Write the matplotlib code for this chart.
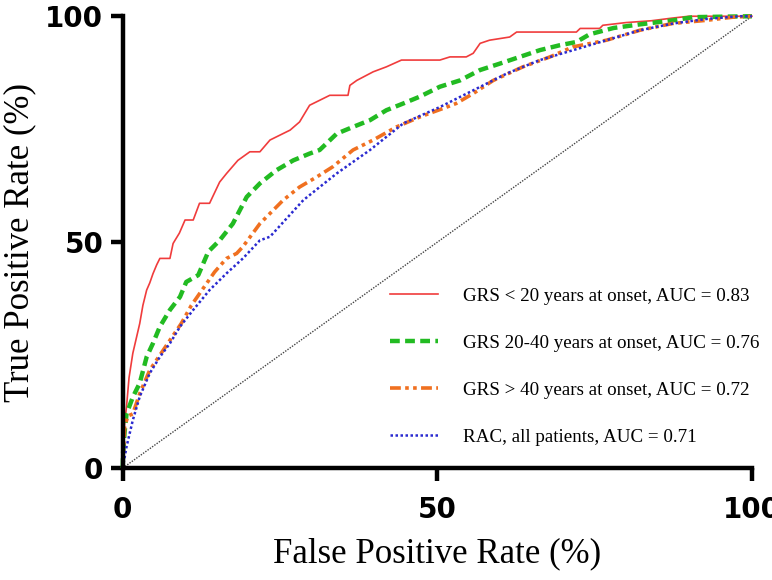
import matplotlib
matplotlib.use("Agg")
import matplotlib.pyplot as plt

# ---- data ----
red_x = [0, 0.1, 0.3, 0.6, 1.0, 1.6, 2.2, 2.7, 3.2, 3.8, 4.3, 4.8, 5.4, 5.9, 7.5, 8.0, 8.3, 9.0, 9.9, 11.2, 12.2, 13.8,
         15.4, 16.5, 18.3, 20.2, 21.8, 23.4, 25.0, 26.6, 28.1, 29.7, 31.3, 32.9, 35.8, 36.1, 37.2, 39.8, 41.9,
         44.3, 50.4, 52.0, 54.6, 55.7, 56.8, 58.3, 61.5, 62.6, 72.1, 72.7, 75.8, 76.3, 80.0, 84.0, 87.4, 90.0, 100]
red_y = [0, 6.0, 10.0, 13.6, 20.0, 25.4, 29.0, 32.0, 36.0, 39.4, 41.0, 43.0, 45.0, 46.4, 46.4, 49.7, 50.4, 52.0, 54.9, 54.9, 58.6, 58.6,
         63.3, 65.2, 68.1, 70.0, 70.0, 72.6, 73.7, 74.8, 76.6, 80.3, 81.4, 82.5, 82.5, 84.7, 85.8, 87.7, 88.8,
         90.3, 90.3, 91.0, 91.0, 91.8, 94.0, 94.7, 95.4, 96.5, 96.5, 97.3, 97.3, 98.0, 98.6, 99.0, 99.6, 100, 100]

green_x = [0, 0.05, 0.3, 0.6, 1.6, 2.7, 3.8, 4.8, 5.9, 7.5, 9.1, 10.1, 12.0, 13.6, 15.4, 17.5, 19.7, 21.8, 24.4,
           27.1, 29.7, 31.3, 34.0, 36.6, 39.3, 41.9, 44.6, 47.2, 50.4, 53.6, 56.8, 59.9, 63.1, 66.3, 69.5, 72.1,
           74.2, 78.0, 82.2, 87.5, 90.7, 100]
green_y = [0, 3.3, 8.0, 12.0, 15.7, 18.8, 24.6, 27.6, 31.3, 35.0, 37.9, 41.2, 42.7, 47.9, 50.4, 54.1, 60.0, 63.0, 65.9,
           68.1, 69.6, 70.4, 74.0, 75.5, 77.0, 79.2, 80.7, 82.2, 84.4, 85.8, 88.1, 89.5, 91.0, 92.5, 93.6, 94.3,
           96.0, 97.4, 98.2, 99.1, 99.8, 100]

orange_x = [0, 0.05, 0.3, 0.8, 1.6, 2.7, 4.3, 5.9, 7.5, 9.3, 10.9, 12.8, 14.6, 16.5, 18.1, 19.1, 21.8, 25.5,
            28.1, 30.8, 33.4, 36.6, 39.8, 43.5, 47.2, 51.5, 53.0, 55.7, 58.9, 63.6, 67.9, 71.5, 76.9, 82.2,
            87.4, 92.8, 97.0, 100]
orange_y = [0, 1.8, 9.1, 11.5, 12.0, 16.5, 21.7, 25.0, 28.3, 32.0, 36.0, 39.8, 43.4, 46.4, 47.5, 49.0, 54.1, 59.3,
            62.2, 64.4, 66.7, 70.4, 72.6, 75.5, 77.7, 79.9, 80.7, 82.9, 85.8, 88.8, 91.0, 93.2, 94.7, 96.9,
            98.4, 99.1, 99.8, 100]

blue_x = [0, 0.6, 1.6, 2.7, 4.3, 5.9, 7.5, 9.1, 11.2, 13.8, 16.5, 19.1, 21.8, 23.4, 28.7, 34.0, 39.3, 44.6,
          50.4, 55.7, 61.0, 66.3, 71.6, 76.9, 82.2, 87.5, 92.8, 98.0, 100]
blue_y = [0, 4.7, 10.6, 15.8, 21.0, 24.6, 27.6, 31.3, 35.0, 39.4, 43.1, 46.4, 50.4, 51.2, 59.3, 65.2, 70.4, 76.3,
          79.9, 83.6, 87.3, 90.3, 92.5, 94.7, 96.9, 98.4, 99.4, 100, 100]

diag_x = [0, 100]
diag_y = [0, 100]

labels = ["GRS < 20 years at onset, AUC = 0.83",
          "GRS 20-40 years at onset, AUC = 0.76",
          "GRS > 40 years at onset, AUC = 0.72",
          "RAC, all patients, AUC = 0.71"]
ticks = [0, 50, 100]

# ---- plot ----
fig = plt.figure(figsize=(7.72, 5.8), dpi=100)
ax = fig.add_axes([0.159, 0.193, 0.815, 0.779])

ax.plot(diag_x, diag_y, color="#444444", lw=1.0, ls=(0, (1, 1)), clip_on=False)
ax.plot(red_x, red_y, color="#f03c3c", lw=1.2, label=labels[0], clip_on=False)
ax.plot(green_x, green_y, color="#22bb22", lw=3.2, ls=(0, (2.2, 1.2)), label=labels[1], clip_on=False)
ax.plot(orange_x, orange_y, color="#f07020", lw=2.6, ls=(0, (3, 1.2, 1, 1.2, 1, 1.2)), label=labels[2], clip_on=False)
ax.plot(blue_x, blue_y, color="#2a2ad0", lw=1.8, ls=(0, (1, 1)), label=labels[3], clip_on=False)

ax.set_xlim(0, 100)
ax.set_ylim(0, 100)
ax.set_xticks(ticks)
ax.set_yticks(ticks)
for s in ["top", "right"]:
    ax.spines[s].set_visible(False)
for s in ["left", "bottom"]:
    ax.spines[s].set_linewidth(3.2)
ax.tick_params(width=3.2, length=9, direction="out")
ax.tick_params(axis="x", pad=11)
ax.tick_params(axis="y", pad=5)
for lab in ax.get_xticklabels() + ax.get_yticklabels():
    lab.set_family("DejaVu Sans")
    lab.set_fontweight("bold")
    lab.set_fontsize(20)

ax.set_xlabel("False Positive Rate (%)", family="Liberation Serif", fontsize=25, labelpad=10)
ax.set_ylabel("True Positive Rate (%)", family="Liberation Serif", fontsize=25)
ax.yaxis.set_label_coords(-0.137, 0.5)

leg = ax.legend(loc="lower left", bbox_to_anchor=(0.397, 0.012), frameon=False,
                prop={"family": "Liberation Serif", "size": 13.7},
                handlelength=2.55, handletextpad=1.3, labelspacing=1.55)

fig.savefig("out.png", dpi=100)
